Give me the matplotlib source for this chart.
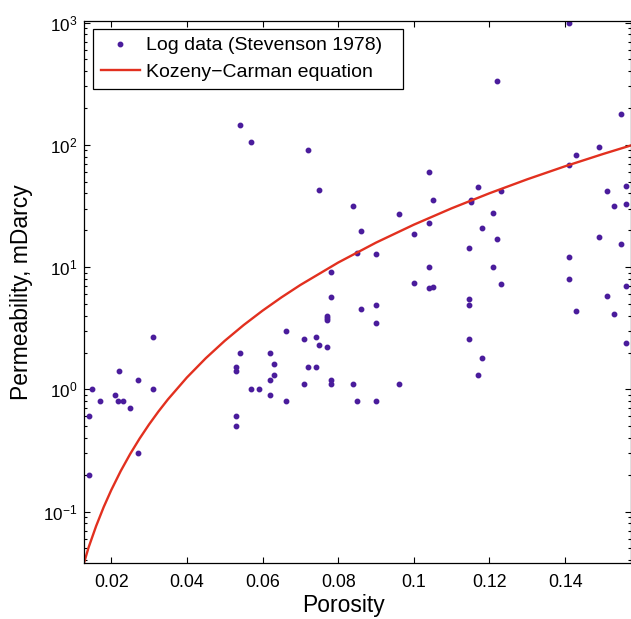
import matplotlib
matplotlib.use("Agg")
import matplotlib.pyplot as plt
from matplotlib.ticker import LogLocator, NullFormatter, FixedLocator


# porosity / permeability pairs
porosity = [
    0.0141, 0.0141, 0.0150, 0.0170, 0.0210, 0.0220, 0.0219, 0.0230, 0.0250,
    0.0270, 0.0270, 0.0310, 0.0310,
    0.0531, 0.0531, 0.0541, 0.0531, 0.0531, 0.0570, 0.0590, 0.0620, 0.0631,
    0.0620, 0.0631, 0.0620, 0.0541, 0.0570,
    0.0661, 0.0661, 0.0710, 0.0741, 0.0750, 0.0771, 0.0720, 0.0741, 0.0710,
    0.0780, 0.0780, 0.0840, 0.0960, 0.0850, 0.0900,
    0.0771, 0.0771, 0.0771, 0.0861, 0.0900, 0.0900,
    0.0780, 0.0780, 0.0850, 0.0900, 0.0860, 0.0840, 0.0750, 0.0720,
    0.0960, 0.1000, 0.1041, 0.1050, 0.1041, 0.1041, 0.1000, 0.1041, 0.1050,
    0.1146, 0.1146, 0.1146, 0.1146, 0.1180, 0.1170,
    0.1220, 0.1170, 0.1230, 0.1150, 0.1150, 0.1210, 0.1180, 0.1220, 0.1210,
    0.1230,
    0.1410, 0.1549, 0.1490, 0.1430, 0.1410, 0.1410, 0.1410, 0.1490, 0.1549,
    0.1510, 0.1560, 0.1560, 0.1530, 0.1560, 0.1510, 0.1430, 0.1530, 0.1560,
]
permeability = [
    0.60, 0.20, 1.0, 0.80, 0.90, 1.41, 0.80, 0.80, 0.70,
    1.20, 0.30, 2.7, 1.0,
    1.51, 1.40, 2.0, 0.60, 0.50, 1.0, 1.0, 2.0, 1.60,
    1.20, 1.30, 0.90, 145, 105,
    3.0, 0.80, 2.6, 2.7, 2.3, 2.2, 1.51, 1.51, 1.11,
    1.20, 1.11, 1.11, 1.11, 0.80, 0.80,
    3.96, 3.81, 3.69, 4.58, 4.9, 3.49,
    5.7, 9.2, 13.0, 12.8, 19.6, 31.7, 42.7, 91,
    27.3, 18.6, 60, 35.5, 23.0, 10.1, 7.4, 6.7, 6.9,
    14.3, 5.5, 4.9, 2.6, 1.80, 1.30,
    330, 45, 42, 35.3, 34, 27.9, 20.9, 17.1, 10,
    7.3,
    1000, 179, 95.5, 83, 68.5, 12.1, 8.0, 17.6, 15.5,
    41.9, 46.3, 32.8, 31.5, 7.0, 5.8, 4.41, 4.11, 2.41,
]

# Kozeny-Carman curve, values along the red line
kc_porosity = [0.0128, 0.014, 0.016, 0.018, 0.020, 0.0225, 0.025, 0.0275,
               0.030, 0.0325, 0.035, 0.040, 0.045, 0.050, 0.055, 0.060,
               0.065, 0.070, 0.080, 0.090, 0.100, 0.110, 0.120, 0.130,
               0.140, 0.150, 0.1573]
kc_permeability = [0.0380, 0.0508, 0.0761, 0.1089, 0.1499, 0.2146, 0.2959,
                   0.3958, 0.5165, 0.6601, 0.8288, 1.250, 1.798, 2.493,
                   3.354, 4.400, 5.654, 7.138, 10.89, 15.85, 22.22, 30.25,
                   40.16, 52.25, 66.78, 84.08, 98.65]

x_ticks = [0.02, 0.04, 0.06, 0.08, 0.1, 0.12, 0.14]
x_tick_labels = ["0.02", "0.04", "0.06", "0.08", "0.1", "0.12", "0.14"]

DOT_COLOR = "#4a1c9c"
LINE_COLOR = "#e2301f"


def main():
    plt.rcParams["font.family"] = ["Liberation Sans", "DejaVu Sans"]
    plt.rcParams["mathtext.fontset"] = "custom"
    plt.rcParams["mathtext.rm"] = "Liberation Sans"
    plt.rcParams["mathtext.it"] = "Liberation Sans"
    plt.rcParams["mathtext.default"] = "regular"

    fig = plt.figure(figsize=(6.31, 6.19), dpi=100)
    ax = fig.add_axes([84 / 631, 56 / 619, 546.5 / 631, 542 / 619])

    ax.plot(porosity, permeability, linestyle="none", marker="o",
            markersize=3.2, color=DOT_COLOR, label="Log data (Stevenson 1978)")
    ax.plot(kc_porosity, kc_permeability, color=LINE_COLOR, linewidth=1.7,
            label="Kozeny\u2212Carman equation")

    ax.set_yscale("log")
    ax.set_xlim(0.0128, 0.1573)
    ax.set_ylim(0.0380, 1030)

    ax.xaxis.set_major_locator(FixedLocator(x_ticks))
    ax.set_xticklabels(x_tick_labels)
    ax.yaxis.set_major_locator(LogLocator(base=10, numticks=10))
    ax.yaxis.set_minor_locator(LogLocator(base=10, subs=range(2, 10), numticks=20))
    ax.yaxis.set_minor_formatter(NullFormatter())

    ax.tick_params(which="both", direction="in", top=True, right=True, width=0.8)
    ax.tick_params(which="major", length=4.5)
    ax.tick_params(which="minor", length=2.5)
    ax.tick_params(axis="x", labelsize=12.8, pad=8)
    ax.tick_params(axis="y", labelsize=12.3, pad=5)
    for spine in ax.spines.values():
        spine.set_linewidth(0.9)

    ax.set_xlabel("Porosity", fontsize=16.5)
    ax.set_ylabel("Permeability, mDarcy", fontsize=16.5)
    ax.xaxis.set_label_coords(0.475, -0.058)
    ax.yaxis.set_label_coords(-0.093, 0.5)

    leg = ax.legend(loc="upper left", bbox_to_anchor=(0.0165, 0.5, 0.567, 0.4852),
                    mode="expand", borderaxespad=0, fontsize=14, fancybox=False,
                    framealpha=1, edgecolor="black", handlelength=2.0,
                    borderpad=0.4, labelspacing=0.45, handletextpad=0.3)
    leg.get_frame().set_linewidth(0.9)

    fig.savefig("out.png", dpi=100)
    plt.close(fig)


if __name__ == "__main__":
    main()
